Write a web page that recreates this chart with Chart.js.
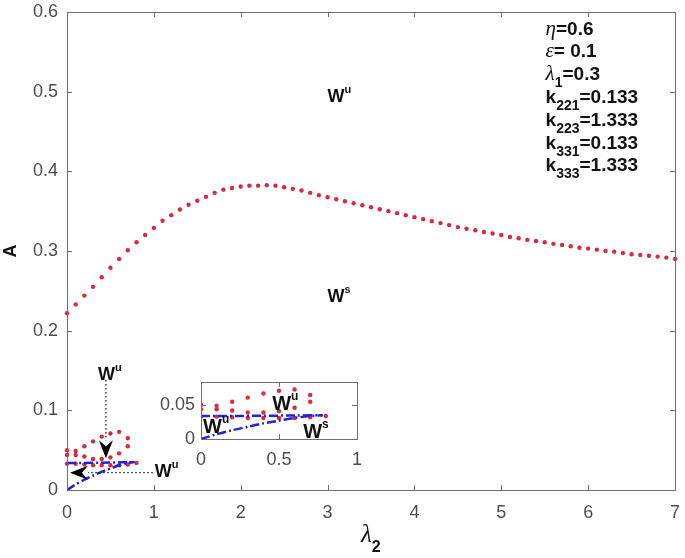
<!DOCTYPE html>
<html>
<head>
<meta charset="utf-8">
<script src="https://cdn.jsdelivr.net/npm/chart.js@4.4.0/dist/chart.umd.min.js"></script>
<style>
    html, body { margin: 0; padding: 0; background: #fff; }
    #wrap { position: relative; width: 685px; height: 558px; }
    #mainChart { position: absolute; left: 0; top: 0; }
    #insetChart { position: absolute; left: 150px; top: 370px; }
</style>
</head>
<body>
<div id="wrap">
    <canvas id="mainChart" width="685" height="558"></canvas>
    <canvas id="insetChart" width="220" height="110"></canvas>
</div>
<script>
// --- data ---
const lambda2 = [0, 0.1, 0.2, 0.3, 0.4, 0.5, 0.6, 0.7, 0.8, 0.9,
    1.0, 1.1, 1.2, 1.3, 1.4, 1.5, 1.6, 1.7, 1.8, 1.9,
    2.0, 2.1, 2.2, 2.3, 2.4, 2.5, 2.6, 2.7, 2.8, 2.9,
    3.0, 3.1, 3.2, 3.3, 3.4, 3.5, 3.6, 3.7, 3.8, 3.9,
    4.0, 4.1, 4.2, 4.3, 4.4, 4.5, 4.6, 4.7, 4.8, 4.9,
    5.0, 5.1, 5.2, 5.3, 5.4, 5.5, 5.6, 5.7, 5.8, 5.9,
    6.0, 6.1, 6.2, 6.3, 6.4, 6.5, 6.6, 6.7, 6.8, 6.9, 7.0];
const amplitude = [0.222, 0.233, 0.244, 0.255, 0.267, 0.279, 0.290, 0.301, 0.311, 0.320,
    0.329, 0.338, 0.345, 0.352, 0.358, 0.363, 0.368, 0.373, 0.377, 0.379,
    0.381, 0.382, 0.382, 0.3825, 0.382, 0.380, 0.378, 0.376, 0.373, 0.370,
    0.3675, 0.365, 0.3625, 0.360, 0.3575, 0.355, 0.3525, 0.350, 0.3475, 0.345,
    0.3425, 0.340, 0.3375, 0.335, 0.3325, 0.330, 0.328, 0.326, 0.324, 0.322,
    0.320, 0.3175, 0.316, 0.314, 0.3125, 0.311, 0.309, 0.3075, 0.306, 0.304,
    0.303, 0.3017, 0.300, 0.299, 0.2975, 0.296, 0.295, 0.294, 0.293, 0.2917, 0.290];

// small branches near the origin
const smallLambda = [0, 0.1, 0.2, 0.3, 0.4, 0.5, 0.6, 0.7];
const upperBranch = [0.050, 0.049, 0.055, 0.061, 0.067, 0.071, 0.073, 0.065];
const lowerBranch = [0.044, 0.044, 0.042, 0.039, 0.039, 0.041, 0.046, 0.055];
const baseLambda = [0, 0.1, 0.2, 0.3, 0.4, 0.5, 0.6, 0.7, 0.8];
const baseBranch = [0.033, 0.033, 0.032, 0.031, 0.031, 0.031, 0.031, 0.032, 0.034];

// blue dash-dot curves
const flatLambda = [0, 0.2, 0.4, 0.6, 0.78];
const flatCurve = [0.034, 0.034, 0.0342, 0.0347, 0.035];
const riseLambda = [0, 0.1, 0.2, 0.3, 0.4, 0.5, 0.6, 0.7, 0.78];
const riseCurve = [0, 0.007, 0.013, 0.018, 0.023, 0.027, 0.031, 0.034, 0.035];

// ticks
const xTicks = [0, 1, 2, 3, 4, 5, 6, 7];
const yTicks = [0, 0.1, 0.2, 0.3, 0.4, 0.5, 0.6];
const insetXTicks = [0, 0.5, 1];
const insetYTicks = [0, 0.05];

const RED = '#d9283f';
const BLUE = '#2323d2';
const AXIS = '#6e6e6e';
const TICKTXT = '#4d4d4d';
const SANS = '"Liberation Sans", Arial, sans-serif';
const SERIF = '"Liberation Serif", "Times New Roman", serif';

const pts = (xs, ys) => xs.map((x, i) => ({ x: x, y: ys[i] }));

// annotations (data coordinates, y = text baseline)
const mainLabels = [
    { x: 3.0, y: 0.487, main: 'W', sup: 'u' },
    { x: 3.0, y: 0.236, main: 'W', sup: 's' },
    { x: 0.356, y: 0.138, main: 'W', sup: 'u' },
    { x: 1.01, y: 0.0163, main: 'W', sup: 'u' }
];
const mainArrows = [
    { from: [0.448, 0.138], to: [0.448, 0.040] },
    { from: [0.987, 0.0217], to: [0.034, 0.0217] }
];
const insetLabels = [
    { x: 0.456, y: 0.0426, main: 'W', sup: 'u' },
    { x: 0.013, y: 0.0088, main: 'W', sup: 'u' },
    { x: 0.655, y: 0.0015, main: 'W', sup: 's' }
];
const paramLines = [
    [['η', 'g'], ['=0.6', 'b']],
    [['ε', 'g'], ['= 0.1', 'b']],
    [['λ', 'g'], ['1', 's'], ['=0.3', 'b']],
    [['k', 'b'], ['221', 's'], ['=0.133', 'b']],
    [['k', 'b'], ['223', 's'], ['=1.333', 'b']],
    [['k', 'b'], ['331', 's'], ['=0.133', 'b']],
    [['k', 'b'], ['333', 's'], ['=1.333', 'b']]
];
const paramX = 5.51;
const paramY = [0.5715, 0.543, 0.5143, 0.4857, 0.4571, 0.4285, 0.400];

const partStyle = {
    g: { font: 'italic 21px ' + SERIF, dy: 0 },
    b: { font: 'bold 19px ' + SANS, dy: 0 },
    s: { font: 'bold 14px ' + SANS, dy: 7 }
};

function drawRich(ctx, x, y, parts) {
    let cx = x;
    parts.forEach(p => {
        ctx.font = p.font;
        ctx.fillText(p.t, cx, y + (p.dy || 0));
        cx += ctx.measureText(p.t).width;
    });
    return cx;
}

function drawW(ctx, x, y, lab, size) {
    ctx.fillStyle = '#111';
    ctx.textBaseline = 'alphabetic';
    ctx.textAlign = 'left';
    drawRich(ctx, x, y, [
        { t: lab.main, font: 'bold ' + size + 'px ' + SANS },
        { t: lab.sup, font: 'bold ' + Math.round(size * 0.62) + 'px ' + SANS, dy: -Math.round(size * 0.5) }
    ]);
}

function drawBox(ctx, chart, xt, yt) {
    const ca = chart.chartArea;
    const xs = chart.scales.x, ys = chart.scales.y;
    ctx.save();
    ctx.strokeStyle = AXIS;
    ctx.lineWidth = 1;
    ctx.strokeRect(Math.round(ca.left) + 0.5, Math.round(ca.top) + 0.5,
        Math.round(ca.right - ca.left), Math.round(ca.bottom - ca.top));
    const tl = 5;
    ctx.beginPath();
    xt.forEach(v => {
        const px = Math.round(xs.getPixelForValue(v)) + 0.5;
        ctx.moveTo(px, ca.bottom); ctx.lineTo(px, ca.bottom - tl);
        ctx.moveTo(px, ca.top); ctx.lineTo(px, ca.top + tl);
    });
    yt.forEach(v => {
        const py = Math.round(ys.getPixelForValue(v)) + 0.5;
        ctx.moveTo(ca.left, py); ctx.lineTo(ca.left + tl, py);
        ctx.moveTo(ca.right, py); ctx.lineTo(ca.right - tl, py);
    });
    ctx.stroke();
    ctx.restore();
}

function drawArrow(ctx, x1, y1, x2, y2) {
    const ang = Math.atan2(y2 - y1, x2 - x1);
    const c = Math.cos(ang), s = Math.sin(ang);
    const len = 18, half = 7, notch = 6;
    const bx = x2 - c * len, by = y2 - s * len;
    ctx.save();
    ctx.strokeStyle = '#222';
    ctx.lineWidth = 1.3;
    ctx.setLineDash([1.5, 2.5]);
    ctx.beginPath();
    ctx.moveTo(x1, y1);
    ctx.lineTo(bx, by);
    ctx.stroke();
    ctx.setLineDash([]);
    ctx.fillStyle = '#000';
    ctx.beginPath();
    ctx.moveTo(x2, y2);
    ctx.lineTo(bx - s * half, by + c * half);
    ctx.lineTo(bx + c * notch, by + s * notch);
    ctx.lineTo(bx + s * half, by - c * half);
    ctx.closePath();
    ctx.fill();
    ctx.restore();
}

const mainDecor = {
    id: 'mainDecor',
    afterDraw(chart) {
        const ctx = chart.ctx;
        const ca = chart.chartArea;
        const xs = chart.scales.x, ys = chart.scales.y;
        drawBox(ctx, chart, xTicks, yTicks);

        ctx.save();
        // axis titles
        ctx.fillStyle = '#111';
        ctx.textBaseline = 'alphabetic';
        ctx.textAlign = 'left';
        const cx = (ca.left + ca.right) / 2;
        drawRich(ctx, cx - 10, ca.bottom + 52, [
            { t: 'λ', font: 'italic 25px ' + SERIF },
            { t: '2', font: 'bold 16px ' + SANS, dy: 10 }
        ]);
        ctx.save();
        ctx.translate(11, (ca.top + ca.bottom) / 2);
        ctx.rotate(-Math.PI / 2);
        ctx.textAlign = 'center';
        ctx.textBaseline = 'middle';
        ctx.font = 'bold 18px ' + SANS;
        ctx.fillText('A', 0, 0);
        ctx.restore();

        // parameter block
        ctx.fillStyle = '#111';
        paramLines.forEach((line, i) => {
            const parts = line.map(([t, k]) => ({ t: t, font: partStyle[k].font, dy: partStyle[k].dy }));
            drawRich(ctx, xs.getPixelForValue(paramX), ys.getPixelForValue(paramY[i]), parts);
        });

        // W labels and arrows
        mainLabels.forEach(l => drawW(ctx, xs.getPixelForValue(l.x), ys.getPixelForValue(l.y), l, 18));
        mainArrows.forEach(a => drawArrow(ctx,
            xs.getPixelForValue(a.from[0]), ys.getPixelForValue(a.from[1]),
            xs.getPixelForValue(a.to[0]), ys.getPixelForValue(a.to[1])));
        ctx.restore();
    }
};

const insetDecor = {
    id: 'insetDecor',
    beforeDatasetsDraw(chart) {
        const ca = chart.chartArea;
        chart.ctx.save();
        chart.ctx.fillStyle = '#fff';
        chart.ctx.fillRect(ca.left, ca.top, ca.right - ca.left, ca.bottom - ca.top);
        chart.ctx.restore();
    },
    afterDraw(chart) {
        const ctx = chart.ctx;
        const xs = chart.scales.x, ys = chart.scales.y;
        drawBox(ctx, chart, insetXTicks, insetYTicks);
        ctx.save();
        insetLabels.forEach(l => drawW(ctx, xs.getPixelForValue(l.x), ys.getPixelForValue(l.y), l, 20));
        ctx.restore();
    }
};

function blueSet(data) {
    return {
        data: data, showLine: true, pointRadius: 0, borderColor: BLUE,
        borderWidth: 2.5, borderDash: [9, 3, 2, 3], fill: false, tension: 0.3
    };
}
function redSet(data, clip) {
    return {
        data: data, showLine: false, pointRadius: 2.2, pointBorderWidth: 0,
        backgroundColor: RED, borderColor: RED, clip: clip
    };
}

function axisOpts(min, max, ticks, pad, fit) {
    return {
        type: 'linear', min: min, max: max,
        grid: { display: false, drawTicks: false },
        border: { display: false },
        ticks: {
            font: { family: SANS, size: 18 }, color: TICKTXT, padding: pad,
            maxRotation: 0, autoSkip: false, callback: v => String(+v.toFixed(3))
        },
        afterBuildTicks: s => { s.ticks = ticks.map(v => ({ value: v })); },
        afterFit: s => {
            fit(s);
            s.paddingTop = 0; s.paddingBottom = 0;
            s.paddingLeft = 0; s.paddingRight = 0;
        }
    };
}

new Chart(document.getElementById('mainChart'), {
    type: 'scatter',
    data: {
        datasets: [
            blueSet(pts(flatLambda, flatCurve)),
            blueSet(pts(riseLambda, riseCurve)),
            redSet(pts(baseLambda, baseBranch), false),
            redSet(pts(smallLambda, upperBranch), false),
            redSet(pts(smallLambda, lowerBranch), false),
            redSet(pts(lambda2, amplitude), false)
        ]
    },
    options: {
        responsive: false,
        animation: false,
        devicePixelRatio: 1,
        layout: { padding: { left: 0, right: 10, top: 12, bottom: 0 } },
        plugins: { legend: { display: false }, tooltip: { enabled: false } },
        scales: {
            x: axisOpts(0, 7, xTicks, 12, s => { s.height = 68; }),
            y: axisOpts(0, 0.6, yTicks, 9, s => { s.width = 67; })
        }
    },
    plugins: [mainDecor]
});

new Chart(document.getElementById('insetChart'), {
    type: 'scatter',
    data: {
        datasets: [
            blueSet(pts(flatLambda, flatCurve)),
            blueSet(pts(riseLambda, riseCurve)),
            redSet(pts(baseLambda, baseBranch), true),
            redSet(pts(smallLambda, upperBranch), true),
            redSet(pts(smallLambda, lowerBranch), true)
        ]
    },
    options: {
        responsive: false,
        animation: false,
        devicePixelRatio: 1,
        layout: { padding: { left: 0, right: 13, top: 12, bottom: 0 } },
        plugins: { legend: { display: false }, tooltip: { enabled: false } },
        scales: {
            x: axisOpts(0, 1, insetXTicks, 10, s => { s.height = 41; }),
            y: axisOpts(0, 0.084, insetYTicks, 6, s => { s.width = 51; })
        }
    },
    plugins: [insetDecor]
});
</script>
</body>
</html>
